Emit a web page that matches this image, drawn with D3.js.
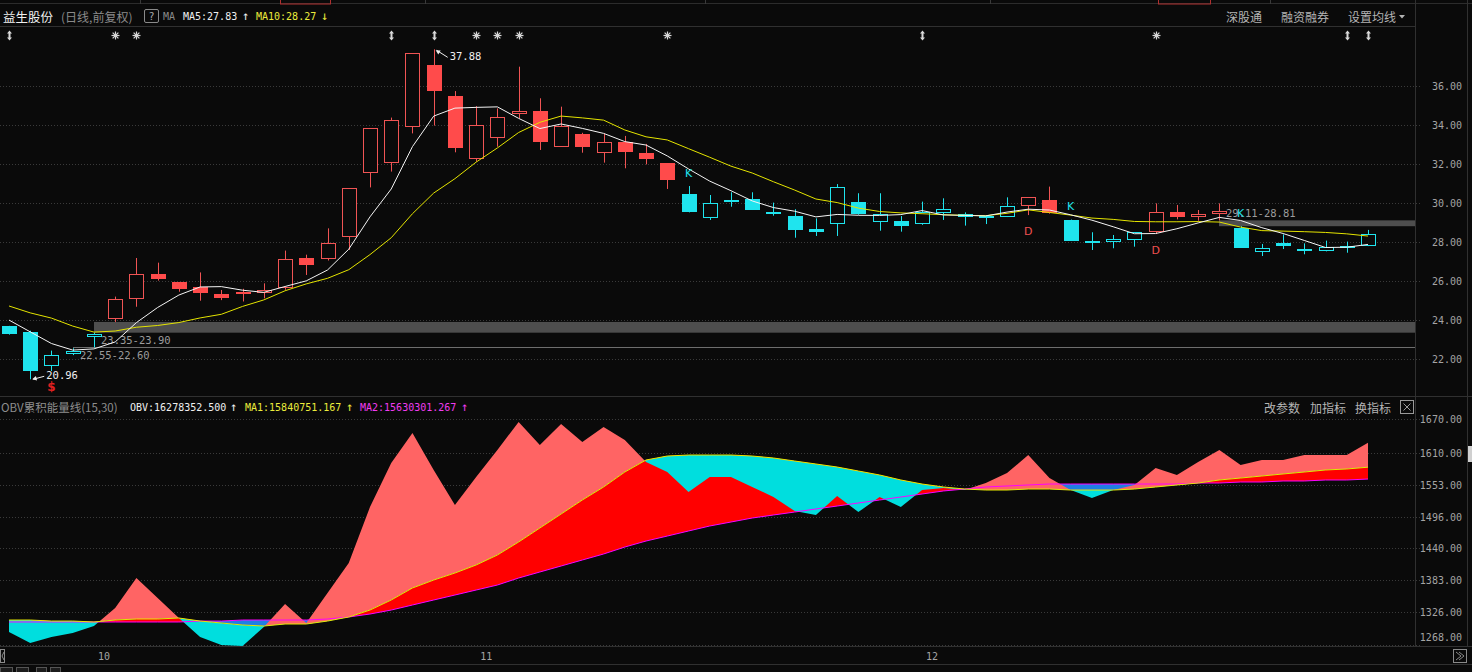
<!DOCTYPE html>
<html><head><meta charset="utf-8">
<script src="https://cdn.jsdelivr.net/npm/d3@7"></script>
<style>
html,body{margin:0;padding:0;background:#0a0a0a;overflow:hidden;}
svg{display:block;}
</style></head><body>
<svg id="c" width="1472" height="672"></svg>
<script>
// ---------------- DATA ----------------
const stockName = "益生股份";
const opens  = [23.68,23.40,21.66,22.25,23.11,24.03,25.06,26.34,25.93,25.71,25.32,25.33,25.37,25.62,27.16,27.11,28.27,31.52,32.03,33.88,37.08,35.49,32.24,33.32,34.56,34.72,32.89,33.54,32.58,33.14,32.55,32.03,30.46,29.25,30.13,30.20,29.56,29.35,28.67,28.91,30.03,29.01,29.08,28.91,29.50,29.44,29.28,29.30,29.86,30.15,29.13,28.05,27.98,28.10,28.50,29.52,29.30,29.42,28.70,27.50,27.93,27.60,27.54,27.74,27.79];
const highs  = [23.70,23.45,22.43,22.55,23.35,25.20,27.18,26.94,25.95,26.44,25.54,25.60,25.88,27.56,27.35,28.70,30.75,33.83,34.38,37.68,37.88,35.74,34.97,34.85,36.99,35.37,34.94,33.60,33.57,33.44,33.03,32.05,30.87,30.41,30.55,30.55,30.02,29.68,29.21,30.97,30.50,30.50,29.33,30.07,30.24,29.52,29.38,30.29,30.29,30.84,29.15,28.50,28.36,28.50,29.98,29.90,29.64,29.98,28.81,27.90,28.39,27.93,28.07,28.02,28.62];
const lows   = [23.25,20.96,21.38,22.20,22.60,23.90,24.68,26.02,25.45,24.99,25.02,24.95,25.11,25.55,26.31,27.05,27.59,30.80,31.61,33.57,33.97,32.60,32.12,32.89,34.34,32.72,32.89,32.58,32.07,31.78,31.98,30.72,29.52,29.13,29.81,29.64,29.35,28.22,28.31,28.31,29.40,28.58,28.53,28.88,29.13,28.84,28.92,29.28,29.38,29.45,28.05,27.59,27.68,27.76,28.41,29.16,29.09,29.11,27.71,27.28,27.64,27.37,27.52,27.45,27.79];
const closes = [23.28,21.38,22.21,22.42,23.30,25.06,26.34,26.09,25.61,25.37,25.15,25.42,25.54,27.11,26.82,27.93,30.75,33.83,34.26,37.68,35.76,32.80,34.02,34.39,34.73,33.15,33.97,32.89,33.11,32.63,32.26,31.18,29.56,29.98,30.17,29.64,29.48,28.62,28.53,30.80,29.42,29.44,28.84,29.56,29.68,29.30,29.31,29.83,30.29,29.47,28.07,27.93,28.15,28.50,29.52,29.30,29.42,29.57,27.71,27.67,27.81,27.64,27.76,27.78,28.39];
// closes of the 9 sessions before the first visible one (estimated, only feed the MA lines)
const priorCloses = [24.9,24.9,26.5,26.4,24.5,24.4,25.2,24.1,23.0];
// trend colour state per session: R = red, C = cyan
const trendState = "CCCCCRRRRRRRRRRRRRRRRRRRRRRRRRRRCCCCCCCCCCCCCCCCRRCCCCRRRRCCCCCCC";
const signals = [{i:2,t:"$"},{i:32,t:"K"},{i:48,t:"D"},{i:50,t:"K"},{i:54,t:"D"},{i:58,t:"K"}];
const eventMarks = [{i:0,s:"d"},{i:5,s:"s"},{i:6,s:"s"},{i:18,s:"d"},{i:20,s:"d"},{i:22,s:"s"},{i:23,s:"s"},{i:24,s:"s"},{i:31,s:"s"},{i:43,s:"d"},{i:54,s:"s"},{i:63,s:"d"},{i:64,s:"d"}];
const gaps = [{i:3,lo:22.55,hi:22.60,label:"22.55-22.60",dir:"up"},{i:4,lo:23.35,hi:23.90,label:"23.35-23.90",dir:"up"},{i:57,lo:28.81,hi:29.11,label:"29.11-28.81",dir:"down"}];
const extremes = [{i:20,v:37.88,side:"high"},{i:1,v:20.96,side:"low"}];
const priceTicks = [22,24,26,28,30,32,34,36];
const monthTicks = [{i:4,label:"10"},{i:22,label:"11"},{i:43,label:"12"}];
// OBV in units of 10,000
const obv = [1290.3,1270.7,1281.4,1288.5,1301.0,1333.1,1386.6,1350.9,1315.3,1281.4,1267.2,1265.4,1299.2,1340.2,1306.4,1359.8,1413.3,1513.1,1591.6,1645.0,1579.1,1516.7,1566.6,1614.7,1664.7,1623.7,1661.1,1629.0,1655.7,1632.6,1593.4,1575.5,1539.9,1566.6,1566.6,1548.8,1531.0,1506.0,1498.9,1532.7,1504.2,1531.0,1513.1,1543.4,1547.0,1543.4,1555.9,1573.7,1605.8,1564.8,1543.4,1529.2,1543.4,1552.4,1582.7,1570.2,1593.4,1614.7,1588.0,1596.9,1596.9,1605.8,1605.8,1605.8,1627.8];
const obvMa1 = [1311.7,1311.7,1309.9,1309.9,1308.2,1311.7,1313.5,1313.5,1315.3,1309.9,1306.4,1302.8,1301.0,1304.6,1304.6,1309.9,1317.1,1329.5,1347.4,1368.8,1383.0,1395.5,1409.8,1427.6,1450.8,1475.7,1500.7,1525.6,1548.8,1575.5,1596.9,1604.0,1605.8,1605.8,1605.8,1604.0,1600.5,1595.1,1589.8,1584.4,1577.3,1570.2,1561.3,1554.1,1548.8,1545.2,1543.4,1543.4,1545.2,1545.2,1543.4,1543.4,1543.4,1545.2,1548.8,1552.4,1555.9,1561.3,1564.8,1568.4,1572.0,1575.5,1579.1,1580.9,1584.1];
const obvMa2 = [1308.2,1308.2,1308.2,1308.2,1308.2,1308.2,1308.2,1308.2,1308.2,1309.9,1309.9,1311.7,1311.7,1311.7,1311.7,1313.5,1317.1,1322.4,1329.5,1338.5,1347.4,1356.3,1365.2,1374.1,1386.6,1397.3,1408.0,1418.7,1429.4,1441.8,1452.5,1461.4,1470.4,1479.3,1486.4,1493.5,1498.9,1504.2,1509.6,1514.9,1520.3,1525.6,1531.0,1536.3,1541.7,1545.2,1548.8,1550.6,1552.4,1554.1,1554.1,1554.1,1554.1,1554.1,1554.1,1554.1,1555.9,1555.9,1557.7,1557.7,1559.5,1559.5,1561.3,1561.3,1563.0];
const obvTicks = [1670,1610,1553,1496,1440,1383,1326,1268];
const obvHeader = {obv:"16278352.500", ma1:"15840751.167", ma2:"15630301.267"};
const maHeader = {ma5:"27.83", ma10:"28.27"};

// ---------------- LAYOUT / STYLE ----------------
const W = 1472, H = 672, plotR = 1415;
const BG = "#0a0a0a";
const RED = "#ff4b4b", RED_LINE = "#f05454", CYAN = "#1fe4ee";
const MONO = "'DejaVu Sans Mono','Liberation Mono',monospace";
const CJK = "'Noto Sans CJK SC','Noto Sans',sans-serif";

const svg = d3.select("#c");
svg.append("rect").attr("width",W).attr("height",H).attr("fill",BG);
const defs = svg.append("defs");

const x = d3.scaleLinear().domain([0, closes.length-1]).range([9, 1368]);
const y = d3.scaleLinear().domain([22, 36]).range([359, 86]);
const yO = d3.scaleLinear().domain([1326, 1670]).range([612, 419]);

// ---------- frame ----------
const frame = svg.append("g");
frame.append("line").attr("x1",0).attr("x2",W).attr("y1",3.5).attr("y2",3.5).attr("stroke","#2c2c2c");
[[280,330,"#b03030"],[1158,1210,"#b03030"]].forEach(d=>frame.append("rect").attr("x",d[0]+0.5).attr("y",-1).attr("width",d[1]-d[0]).attr("height",5).attr("fill","none").attr("stroke",d[2]));
[140,425,705,990,1270].forEach(v=>frame.append("line").attr("x1",v+0.5).attr("x2",v+0.5).attr("y1",0).attr("y2",4).attr("stroke","#3a3a3a"));
frame.append("line").attr("x1",0).attr("x2",plotR).attr("y1",26.5).attr("y2",26.5).attr("stroke","#303030");
frame.append("line").attr("x1",0).attr("x2",W).attr("y1",396.5).attr("y2",396.5).attr("stroke","#303030");
frame.append("line").attr("x1",0).attr("x2",W).attr("y1",646.5).attr("y2",646.5).attr("stroke","#303030");
frame.append("line").attr("x1",0).attr("x2",W).attr("y1",664.5).attr("y2",664.5).attr("stroke","#303030");
frame.append("line").attr("x1",plotR+0.5).attr("x2",plotR+0.5).attr("y1",0).attr("y2",647).attr("stroke","#303030");
frame.append("line").attr("x1",1467.5).attr("x2",1467.5).attr("y1",0).attr("y2",647).attr("stroke","#303030");
frame.append("rect").attr("x",1468).attr("y",446).attr("width",4).attr("height",16).attr("fill","#d0d0d0");

// ---------- header ----------
const hdr = svg.append("g").attr("dominant-baseline","central");
hdr.append("text").attr("x",3).attr("y",16).attr("fill","#f0f0f0").attr("font-family",CJK).attr("font-size",12.5).text(stockName);
hdr.append("text").attr("x",61).attr("y",16).attr("fill","#8a8a8a").attr("font-family",CJK).attr("font-size",12).text("(日线,前复权)");
hdr.append("rect").attr("x",144.5).attr("y",9.5).attr("width",14).attr("height",13).attr("rx",1.5).attr("fill","none").attr("stroke","#8a8a8a");
hdr.append("text").attr("x",151.5).attr("y",16).attr("text-anchor","middle").attr("fill","#aaa").attr("font-family",MONO).attr("font-size",10).text("?");
hdr.append("text").attr("x",163).attr("y",16).attr("fill","#8a8a8a").attr("font-family",MONO).attr("font-size",10).text("MA");
hdr.append("text").attr("x",183).attr("y",16).attr("fill","#f0f0f0").attr("font-family",MONO).attr("font-size",10).text("MA5:"+maHeader.ma5);
hdr.append("text").attr("x",242).attr("y",16).attr("fill","#f0f0f0").attr("font-family",MONO).attr("font-size",12).text("↑");
hdr.append("text").attr("x",256).attr("y",16).attr("fill","#ecec3c").attr("font-family",MONO).attr("font-size",10).text("MA10:"+maHeader.ma10);
hdr.append("text").attr("x",321).attr("y",16).attr("fill","#ecec3c").attr("font-family",MONO).attr("font-size",12).text("↓");
[["深股通",1226],["融资融券",1281],["设置均线",1348]].forEach(d=>hdr.append("text").attr("x",d[1]).attr("y",16).attr("fill","#b4b4b4").attr("font-family",CJK).attr("font-size",12).text(d[0]));
hdr.append("path").attr("d","M1399,15 L1405,15 L1402,18.5 Z").attr("fill","#b4b4b4");

// ---------- event marks row ----------
const em = svg.append("g");
eventMarks.forEach(m=>{
  const cx = Math.round(x(m.i))+0.5, cy = 35.5;
  if (m.s === "d") {
    em.append("path").attr("d",`M${cx},${cy-5} L${cx-2.5},${cy-2} L${cx+2.5},${cy-2} Z M${cx},${cy+5} L${cx-2.5},${cy+2} L${cx+2.5},${cy+2} Z`).attr("fill","#d8d8d8");
    em.append("line").attr("x1",cx).attr("x2",cx).attr("y1",cy-3).attr("y2",cy+3).attr("stroke","#d8d8d8").attr("stroke-width",2);
  } else {
    const r = 4;
    [[r,0],[0,r],[r*0.72,r*0.72],[r*0.72,-r*0.72]].forEach(v=>em.append("line").attr("x1",cx-v[0]).attr("x2",cx+v[0]).attr("y1",cy-v[1]).attr("y2",cy+v[1]).attr("stroke","#d8d8d8").attr("stroke-width",1.2));
    em.append("circle").attr("cx",cx).attr("cy",cy).attr("r",1.8).attr("fill","#d8d8d8");
  }
});

// ---------- price grid + axis ----------
const grid = svg.append("g");
priceTicks.forEach(t=>{
  const yy = Math.round(y(t))+0.5;
  grid.append("line").attr("x1",0).attr("x2",1420).attr("y1",yy).attr("y2",yy).attr("stroke","#3a3a3a").attr("stroke-dasharray","1,2");
  grid.append("text").attr("x",1462).attr("y",yy).attr("dominant-baseline","central").attr("text-anchor","end").attr("fill","#a4a4a4").attr("font-family",MONO).attr("font-size",10).text(t.toFixed(2));
});

// ---------- gaps ----------
const gg = svg.append("g");
gaps.forEach(g=>{
  const x0 = Math.round(x(g.i));
  const yTop = y(g.hi), yBot = y(g.lo);
  const h = Math.max(1, yBot - yTop);
  gg.append("rect").attr("x",x0).attr("y",h<2?Math.round(yTop):yTop).attr("width",plotR - x0).attr("height",h<2?1:h).attr("fill",h<2?"#6e6e6e":"#4e4e4e");
  const ly = g.dir==="up" ? yBot + 7 : yTop - 7;
  gg.append("text").attr("x",x0+7).attr("y",ly).attr("dominant-baseline","central").attr("fill","#9c9c9c").attr("font-family",MONO).attr("font-size",10.5).text(g.label);
});

// ---------- candles ----------
const cg = svg.append("g");
closes.forEach((c,i)=>{
  const o = opens[i], hi = highs[i], lo = lows[i];
  const col = trendState[i]==="R" ? RED : CYAN;
  const lineCol = trendState[i]==="R" ? RED_LINE : CYAN;
  const cx = Math.round(x(i));
  const top = y(Math.max(o,c)), bot = y(Math.min(o,c));
  const bh = Math.max(1, Math.round(bot) - Math.round(top));
  const hollow = c > o;
  cg.append("line").attr("x1",cx+0.5).attr("x2",cx+0.5).attr("y1",y(hi)).attr("y2",Math.round(top)).attr("stroke",lineCol);
  cg.append("line").attr("x1",cx+0.5).attr("x2",cx+0.5).attr("y1",Math.round(top)+bh).attr("y2",y(lo)).attr("stroke",lineCol);
  if (hollow && bh > 2) {
    cg.append("rect").attr("x",cx-6.5).attr("y",Math.round(top)+0.5).attr("width",14).attr("height",bh-1).attr("fill",BG).attr("stroke",lineCol);
  } else {
    cg.append("rect").attr("x",cx-7).attr("y",Math.round(top)).attr("width",15).attr("height",Math.max(2,bh)).attr("fill",col);
  }
});

// ---------- moving averages ----------
const allCloses = priorCloses.concat(closes);
function movingAvg(n){ return closes.map((c,i)=>d3.mean(allCloses.slice(i+priorCloses.length-n+1, i+priorCloses.length+1))); }
const ma5 = movingAvg(5), ma10 = movingAvg(10);
const lineP = d3.line().x((d,i)=>x(i)).y(d=>y(d));
svg.append("path").attr("d",lineP(ma10)).attr("fill","none").attr("stroke","#e4e400").attr("stroke-width",1);
svg.append("path").attr("d",lineP(ma5)).attr("fill","none").attr("stroke","#f4f4f4").attr("stroke-width",1);

// ---------- signals ----------
signals.forEach(s=>{
  const isK = s.t==="K";
  const yy = isK ? y(highs[s.i]) - 13 : y(lows[s.i]) + 16;
  svg.append("text").attr("x",x(s.i)).attr("y",yy).attr("text-anchor","middle").attr("dominant-baseline","central")
    .attr("fill", isK ? CYAN : (s.t==="$" ? "#e02020" : "#f05050"))
    .attr("font-family","'DejaVu Sans',sans-serif").attr("font-size", s.t==="$"?12:11).attr("font-weight", s.t==="$"?"bold":"normal").text(s.t);
});

// ---------- extremes ----------
extremes.forEach(e=>{
  const px = x(e.i) + 2, py = y(e.v) + (e.side==="high"?1:0);
  const tx = x(e.i) + 16, ty = e.side==="high" ? py + 6 : py - 4;
  svg.append("line").attr("x1",tx-2).attr("y1",ty+1).attr("x2",px+1).attr("y2",py).attr("stroke","#f0f0f0");
  const ang = Math.atan2(ty+1-py, tx-2-px);
  const a1 = ang+0.5, a2 = ang-0.5;
  svg.append("path").attr("d",`M${px},${py} L${px+5*Math.cos(a1)},${py+5*Math.sin(a1)} L${px+5*Math.cos(a2)},${py+5*Math.sin(a2)} Z`).attr("fill","#f0f0f0");
  svg.append("text").attr("x",tx).attr("y",ty).attr("dominant-baseline","central").attr("fill","#f0f0f0").attr("font-family",MONO).attr("font-size",10.5).text(e.v.toFixed(2));
});

// ---------- OBV panel ----------
const oh = svg.append("g").attr("dominant-baseline","central");
oh.append("text").attr("x",1).attr("y",407).attr("fill","#8e8e8e").attr("font-family",CJK).attr("font-size",11.5).text("OBV累积能量线(15,30)");
oh.append("text").attr("x",130).attr("y",407).attr("fill","#f0f0f0").attr("font-family",MONO).attr("font-size",10).text("OBV:"+obvHeader.obv);
oh.append("text").attr("x",230).attr("y",407).attr("fill","#f0f0f0").attr("font-family",MONO).attr("font-size",12).text("↑");
oh.append("text").attr("x",245).attr("y",407).attr("fill","#ecec3c").attr("font-family",MONO).attr("font-size",10).text("MA1:"+obvHeader.ma1);
oh.append("text").attr("x",346).attr("y",407).attr("fill","#ecec3c").attr("font-family",MONO).attr("font-size",12).text("↑");
oh.append("text").attr("x",360).attr("y",407).attr("fill","#f03cf0").attr("font-family",MONO).attr("font-size",10).text("MA2:"+obvHeader.ma2);
oh.append("text").attr("x",461).attr("y",407).attr("fill","#f03cf0").attr("font-family",MONO).attr("font-size",12).text("↑");
[["改参数",1264],["加指标",1310],["换指标",1355]].forEach(d=>oh.append("text").attr("x",d[1]).attr("y",407).attr("fill","#b4b4b4").attr("font-family",CJK).attr("font-size",12).text(d[0]));
oh.append("rect").attr("x",1400.5).attr("y",400.5).attr("width",13).attr("height",13).attr("fill","none").attr("stroke","#9a9a9a");
oh.append("path").attr("d","M1403.5,403.5 L1410.5,410.5 M1410.5,403.5 L1403.5,410.5").attr("stroke","#9a9a9a");

obvTicks.forEach(t=>{
  const yy = Math.round(yO(t))+0.5;
  svg.append("line").attr("x1",0).attr("x2",1420).attr("y1",yy).attr("y2",yy).attr("stroke","#3a3a3a").attr("stroke-dasharray","1,2");
  svg.append("text").attr("x",1462).attr("y",Math.min(yy,637)).attr("dominant-baseline","central").attr("text-anchor","end").attr("fill","#a4a4a4").attr("font-family",MONO).attr("font-size",10).text(t.toFixed(2));
});

const panelTop = 398, panelBot = 646;
function crossFill(A, B, upCol, dnCol, id){
  const between = d3.area().x((d,i)=>x(i)).y0((d,i)=>yO(B[i])).y1((d,i)=>yO(A[i]));
  const above = d3.area().x((d,i)=>x(i)).y0(panelTop).y1((d,i)=>yO(B[i]));
  const below = d3.area().x((d,i)=>x(i)).y0(panelBot).y1((d,i)=>yO(B[i]));
  defs.append("clipPath").attr("id",id+"U").append("path").attr("d",above(B));
  defs.append("clipPath").attr("id",id+"D").append("path").attr("d",below(B));
  svg.append("path").attr("d",between(A)).attr("fill",upCol).attr("clip-path",`url(#${id}U)`);
  svg.append("path").attr("d",between(A)).attr("fill",dnCol).attr("clip-path",`url(#${id}D)`);
}
crossFill(obvMa1, obvMa2, "#ff0000", "#1f7fe4", "mm");
crossFill(obv, obvMa1, "#ff6464", "#00dede", "om");
const lineO = d3.line().x((d,i)=>x(i)).y(d=>yO(d));
svg.append("path").attr("d",lineO(obvMa2)).attr("fill","none").attr("stroke","#ff00ff").attr("stroke-width",1);
svg.append("path").attr("d",lineO(obvMa1)).attr("fill","none").attr("stroke","#e8e800").attr("stroke-width",1);

// ---------- x axis ----------
const xa = svg.append("g");
monthTicks.forEach(m=>{
  xa.append("text").attr("x",x(m.i)+4).attr("y",656).attr("dominant-baseline","central").attr("fill","#a4a4a4").attr("font-family",MONO).attr("font-size",10).text(m.label);
});
xa.append("rect").attr("x",0.5).attr("y",649.5).attr("width",4).attr("height",13).attr("fill","none").attr("stroke","#8a8a8a");
xa.append("path").attr("d","M4,652 L2,656 L4,660").attr("fill","none").attr("stroke","#8a8a8a");
xa.append("rect").attr("x",1453.5).attr("y",649.5).attr("width",13).attr("height",13).attr("fill","none").attr("stroke","#8a8a8a");
xa.append("path").attr("d","M1456,652 L1461,656 L1456,660 M1459,652 L1464,656 L1459,660").attr("fill","none").attr("stroke","#8a8a8a");
// bottom tab strip
[[0,12],[16,28],[36,46],[50,60]].forEach(d=>xa.append("rect").attr("x",d[0]+0.5).attr("y",667.5).attr("width",d[1]-d[0]).attr("height",6).attr("fill","#1c1c1c").attr("stroke","#555"));
</script>
</body></html>
